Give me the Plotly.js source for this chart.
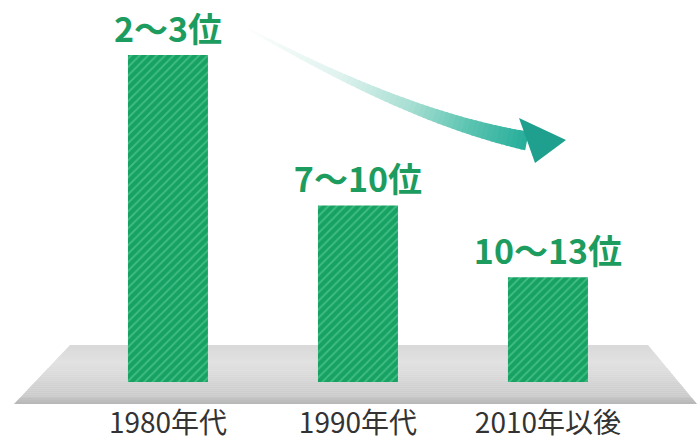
<!DOCTYPE html>
<html>
<head>
<meta charset="utf-8">
<script src="https://cdn.plot.ly/plotly-3.0.1.min.js"></script>
<style>html,body{margin:0;padding:0;background:#fff;}#chart{width:699px;height:442px;}</style>
</head>
<body>
<div id="chart"></div>
<script>
// ---- data ----
const categories = ['1980年代', '1990年代', '2010年以後'];
const barHeights = [100, 54, 32];           // relative bar heights
const rankLabels = ['2〜3位', '7〜10位', '10〜13位'];

// ---- decoration helpers (pixel -> paper) ----
const W = 699, PLOT_H = 400;
const px = x => x / W;
const py = y => (PLOT_H - y) / PLOT_H;
function hex(c){return [parseInt(c.slice(1,3),16),parseInt(c.slice(3,5),16),parseInt(c.slice(5,7),16)];}
function lerpColor(stops, t){
  for (let i=0;i<stops.length-1;i++){
    const [t0,c0]=stops[i],[t1,c1]=stops[i+1];
    if (t<=t1){const f=(t-t0)/(t1-t0);const a=hex(c0),b=hex(c1);
      return 'rgb('+a.map((v,k)=>Math.round(v+(b[k]-v)*f)).join(',')+')';}
  }
  return stops[stops.length-1][1];
}
const shapes = [];
// floor (gradient parallelogram)
const floorTop = 345, floorBot = 404, N = 30;
const floorStops = [[0,'#d8d8d8'],[0.3,'#e2e2e2'],[0.85,'#cbcbcb'],[1,'#b6b6b6']];
for (let i=0;i<N;i++){
  const ya = floorTop + (floorBot-floorTop)*i/N, yb = Math.min(floorBot, floorTop + (floorBot-floorTop)*(i+1.15)/N);
  const ta=(ya-floorTop)/(floorBot-floorTop), tb=(yb-floorTop)/(floorBot-floorTop);
  const lx = t => 70 + (14-70)*t, rx = t => 648 + (697-648)*t;
  const c = lerpColor(floorStops,(ta+tb)/2);
  shapes.push({type:'path', xref:'paper', yref:'paper', layer:'below',
    path:`M${px(lx(ta))},${py(ya)} L${px(rx(ta))},${py(ya)} L${px(rx(tb))},${py(yb)} L${px(lx(tb))},${py(yb)} Z`,
    fillcolor:c, line:{width:0}});
}
// curved gradient arrow
const P0=[243,26],P1=[330,74],P2=[430,122],P3=[527,141];
function bez(t){const u=1-t;return [0,1].map(k=>u*u*u*P0[k]+3*u*u*t*P1[k]+3*u*t*t*P2[k]+t*t*t*P3[k]);}
function dbez(t){const u=1-t;return [0,1].map(k=>3*u*u*(P1[k]-P0[k])+6*u*t*(P2[k]-P1[k])+3*t*t*(P3[k]-P2[k]));}
const arrowStops=[[0,'#ffffff'],[0.35,'#e0f3ef'],[0.6,'#a8dfd3'],[0.8,'#5cc4b1'],[1,'#26ae9b']];
const M=60;
function edge(t){const p=bez(t),d=dbez(t),l=Math.hypot(d[0],d[1]);const n=[-d[1]/l,d[0]/l];const w=(1.5+17.5*Math.pow(t,1.1))/2;
  return [[p[0]+n[0]*w,p[1]+n[1]*w],[p[0]-n[0]*w,p[1]-n[1]*w]];}
for(let i=0;i<M;i++){
  const ta=i/M,tb=Math.min(1,(i+1.3)/M);
  const [a1,a2]=edge(ta),[b1,b2]=edge(tb);
  shapes.push({type:'path',xref:'paper',yref:'paper',layer:'below',
    path:`M${px(a1[0])},${py(a1[1])} L${px(b1[0])},${py(b1[1])} L${px(b2[0])},${py(b2[1])} L${px(a2[0])},${py(a2[1])} Z`,
    fillcolor:lerpColor(arrowStops,(ta+tb)/2),line:{width:0}});
}
shapes.push({type:'path',xref:'paper',yref:'paper',layer:'below',
  path:`M${px(519)},${py(118)} L${px(566)},${py(140)} L${px(535)},${py(163)} Z`,
  fillcolor:'#1fa08e',line:{width:0}});

const trace = {
  type:'bar', x:categories, y:barHeights, width:0.421,
  text:rankLabels, textposition:'outside', cliponaxis:false, constraintext:'none',
  textfont:{family:'"Noto Sans CJK JP", "Noto Sans", sans-serif', size:34, color:'#1d9c5f', weight:700},
  marker:{color:'#17a263', line:{width:0},
    pattern:{shape:'/', fillmode:'replace', bgcolor:'#17a263', fgcolor:'#42be86', size:6, solidity:0.3}},
  hoverinfo:'skip'
};
const layout = {
  width:699, height:442, margin:{l:0,r:0,t:0,b:42},
  paper_bgcolor:'#ffffff', plot_bgcolor:'rgba(0,0,0,0)', showlegend:false,
  xaxis:{type:'category', range:[-0.884,2.795], showgrid:false, zeroline:false, showline:false, ticks:'',
    tickfont:{family:'"Noto Sans CJK JP", sans-serif', size:28, color:'#333333'}, ticklabelstandoff:4, fixedrange:true},
  yaxis:{range:[-5.5,116.82], visible:false, showgrid:false, zeroline:false, fixedrange:true},
  shapes:shapes
};
Plotly.newPlot('chart',[trace],layout,{displayModeBar:false,staticPlot:true});
</script>
</body>
</html>
